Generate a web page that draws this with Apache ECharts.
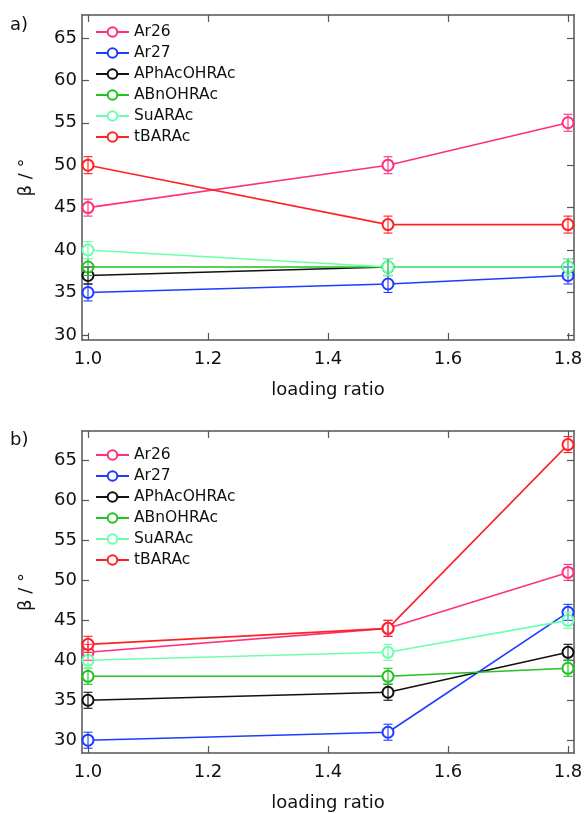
<!DOCTYPE html>
<html><head><meta charset="utf-8">
<script src="https://cdn.jsdelivr.net/npm/echarts@6/dist/echarts.min.js"></script>
<style>html,body{margin:0;padding:0;background:#fff}#c{width:587px;height:813px}</style>
</head><body><div id="c"></div>
<script>
// ---- data ----
const loadingRatio = [1.0, 1.5, 1.8];
const seriesNames = ['Ar26', 'Ar27', 'APhAcOHRAc', 'ABnOHRAc', 'SuARAc', 'tBARAc'];
// panel a)
const a_Ar26 = [45, 50, 55];
const a_Ar27 = [35, 36, 37];
const a_APhAcOHRAc = [37, 38, 38];
const a_ABnOHRAc = [38, 38, 38];
const a_SuARAc = [40, 38, 38];
const a_tBARAc = [50, 43, 43];
// panel b)
const b_Ar26 = [41, 44, 51];
const b_Ar27 = [30, 31, 46];
const b_APhAcOHRAc = [35, 36, 41];
const b_ABnOHRAc = [38, 38, 39];
const b_SuARAc = [40, 41, 45];
const b_tBARAc = [42, 44, 67];
// error bar half-widths (degrees)
const errBar = [1, 1, 1];
// tick labels
const xTicks = [1.0, 1.2, 1.4, 1.6, 1.8];
const yTicks = [30, 35, 40, 45, 50, 55, 60, 65];

// ---- style ----
const palette = ['#ff2f7d', '#1e3cff', '#111111', '#1fc41f', '#6dffae', '#ff2222'];
const FONT = 'DejaVu Sans';
const frameColor = '#555';

const panels = [
  [a_Ar26, a_Ar27, a_APhAcOHRAc, a_ABnOHRAc, a_SuARAc, a_tBARAc],
  [b_Ar26, b_Ar27, b_APhAcOHRAc, b_ABnOHRAc, b_SuARAc, b_tBARAc]
];
const yRanges = [[29.4, 67.7], [28.4, 68.7]];

const grids = [
  {left: 82, right: 13, top: 15, height: 325},
  {left: 82, right: 13, top: 431, height: 323}
];

const xAxes = [], yAxes = [];
grids.forEach((g, gi) => {
  const base = {
    type: 'value', gridIndex: gi, min: 0.99, max: 1.81,
    axisLine: {show: true, onZero: false, lineStyle: {color: frameColor, width: 1.5}},
    axisTick: {show: true, inside: true, length: 7, customValues: xTicks, lineStyle: {color: frameColor, width: 1.2}},
    splitLine: {show: false}
  };
  xAxes.push(Object.assign({}, base, {
    position: 'bottom',
    name: 'loading ratio', nameLocation: 'middle', nameGap: 41,
    nameTextStyle: {fontFamily: FONT, fontSize: 18, color: '#111'},
    axisLabel: {show: true, customValues: xTicks, margin: 10, fontFamily: FONT, fontSize: 18, color: '#111',
      formatter: v => v.toFixed(1)}
  }));
  xAxes.push(Object.assign({}, base, {position: 'top', axisLabel: {show: false}}));
  const ybase = {
    type: 'value', gridIndex: gi, min: yRanges[gi][0], max: yRanges[gi][1],
    axisLine: {show: true, onZero: false, lineStyle: {color: frameColor, width: 1.5}},
    axisTick: {show: true, inside: true, length: 7, customValues: yTicks, lineStyle: {color: frameColor, width: 1.2}},
    splitLine: {show: false}
  };
  yAxes.push(Object.assign({}, ybase, {
    position: 'left',
    name: 'β / °', nameLocation: 'middle', nameGap: 47, nameRotate: 90,
    nameTextStyle: {fontFamily: FONT, fontSize: 18, color: '#111'},
    axisLabel: {show: true, customValues: yTicks, margin: 5, fontFamily: FONT, fontSize: 18, color: '#111'}
  }));
  yAxes.push(Object.assign({}, ybase, {position: 'right', axisLabel: {show: false}}));
});

const series = [];
panels.forEach((vals, gi) => {
  vals.forEach((arr, si) => {
    series.push({
      type: 'line', name: seriesNames[si], xAxisIndex: gi * 2, yAxisIndex: gi * 2,
      data: loadingRatio.map((x, j) => [x, arr[j]]),
      symbol: 'emptyCircle', symbolSize: 11,
      lineStyle: {color: palette[si], width: 1.6},
      itemStyle: {color: palette[si], borderWidth: 1.4},
      z: 2, animation: false
    });
  });
});
panels.forEach((vals, gi) => {
  vals.forEach((arr, si) => {
    series.push({
      type: 'custom', name: seriesNames[si], xAxisIndex: gi * 2, yAxisIndex: gi * 2,
      data: loadingRatio.map((x, j) => [x, arr[j], errBar[j]]),
      renderItem: (params, api) => {
        const x = api.value(0), y = api.value(1), e = api.value(2);
        const lo = api.coord([x, y - e]), hi = api.coord([x, y + e]);
        const w = 4.5;
        const st = {stroke: palette[si], lineWidth: 1.1};
        return {type: 'group', children: [
          {type: 'line', shape: {x1: lo[0], y1: lo[1], x2: hi[0], y2: hi[1]}, style: st},
          {type: 'line', shape: {x1: lo[0] - w, y1: lo[1], x2: lo[0] + w, y2: lo[1]}, style: st},
          {type: 'line', shape: {x1: hi[0] - w, y1: hi[1], x2: hi[0] + w, y2: hi[1]}, style: st}
        ]};
      },
      z: 3, animation: false, silent: true
    });
  });
});

const legendBase = {
  data: seriesNames, orient: 'vertical', itemWidth: 33, itemHeight: 12, itemGap: 3,
  textStyle: {fontFamily: FONT, fontSize: 15.5, color: '#111', lineHeight: 18, padding: [0,0,0,0]},
  selectedMode: false
};

const chart = echarts.init(document.getElementById('c'), null, {renderer: 'canvas'});
chart.setOption({
  animation: false,
  backgroundColor: '#fff',
  grid: grids,
  xAxis: xAxes,
  yAxis: yAxes,
  legend: [
    Object.assign({}, legendBase, {left: 90, top: 18}),
    Object.assign({}, legendBase, {left: 90, top: 441})
  ],
  graphic: [
    {type: 'text', left: 10, top: 16, style: {text: 'a)', font: '18px "DejaVu Sans"', fill: '#111'}},
    {type: 'text', left: 10, top: 431, style: {text: 'b)', font: '18px "DejaVu Sans"', fill: '#111'}}
  ],
  series: series
});
</script></body></html>
